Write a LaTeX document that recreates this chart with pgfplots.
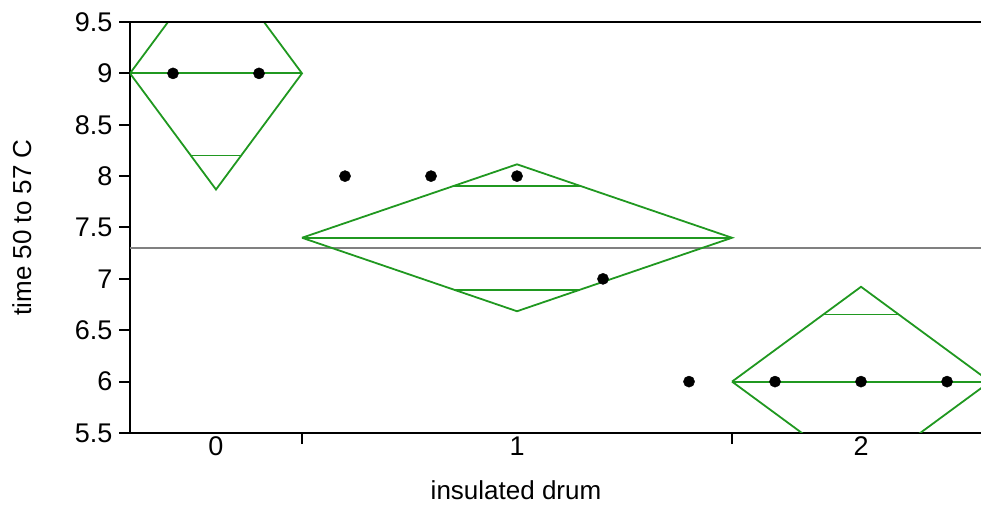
\documentclass[border=0pt]{standalone}
\usepackage{pgfplots}
\pgfplotsset{compat=1.18}
\usepackage{fontspec}
\setmainfont{Liberation Sans}
\definecolor{jgreen}{RGB}{32,152,32}
\definecolor{gmean}{RGB}{128,128,128}
\begin{document}
\begin{tikzpicture}
\useasboundingbox (-130pt,-72pt) rectangle (851pt,433pt);
\begin{axis}[
  at={(0,0)}, anchor=south west,
  scale only axis, width=851pt, height=411pt,
  xmin=0, xmax=9.895, ymin=5.5, ymax=9.5,
  axis x line*=bottom, axis y line*=left,
  axis line style={line width=2pt, black},
  clip mode=individual,
  ytick={5.5,6,6.5,7,7.5,8,8.5,9,9.5},
  yticklabels={5.5,6,6.5,7,7.5,8,8.5,9,9.5},
  xtick={2,7}, xticklabels={,},
  extra x ticks={1,4.5,8.5}, extra x tick labels={0,1,2},
  extra x tick style={major tick length=0pt},
  tick align=outside,
  major tick length=11pt,
  tick style={line width=2pt, black},
  /pgf/number format/assume math mode=true,
  tick label style={font=\fontsize{27}{31}\selectfont},
  yticklabel style={xshift=-3pt},
  label style={font=\fontsize{26}{30}\selectfont},
  xlabel={insulated drum},
  ylabel={time 50 to 57 C},
  xlabel style={at={(axis description cs:0.4536,-0.138)}, anchor=center},
  ylabel style={at={(axis description cs:-0.127,0.5)}, anchor=center},
]
% grand mean
\addplot[gmean, line width=2pt] coordinates {(0,7.3) (9.895,7.3)};
% group 0 diamond
\addplot[jgreen, line width=1.8pt] coordinates {(0,9) (1,10.1305) (2,9) (1,7.8695) (0,9)};
\addplot[jgreen, line width=1.8pt] coordinates {(0,9) (2,9)};
\addplot[jgreen, line width=1.8pt] coordinates {(0.7071,9.7994) (1.2929,9.7994)};
\addplot[jgreen, line width=1.8pt] coordinates {(0.7071,8.2006) (1.2929,8.2006)};
% group 1 diamond
\addplot[jgreen, line width=1.8pt] coordinates {(2,7.4) (4.5,8.115) (7,7.4) (4.5,6.685) (2,7.4)};
\addplot[jgreen, line width=1.8pt] coordinates {(2,7.4) (7,7.4)};
\addplot[jgreen, line width=1.8pt] coordinates {(3.768,7.9056) (5.232,7.9056)};
\addplot[jgreen, line width=1.8pt] coordinates {(3.768,6.8944) (5.232,6.8944)};
% group 2 diamond
\addplot[jgreen, line width=1.8pt] coordinates {(7,6) (8.5,6.923) (10,6) (8.5,5.077) (7,6)};
\addplot[jgreen, line width=1.8pt] coordinates {(7,6) (10,6)};
\addplot[jgreen, line width=1.8pt] coordinates {(8.0607,6.6527) (8.9393,6.6527)};
\addplot[jgreen, line width=1.8pt] coordinates {(8.0607,5.3473) (8.9393,5.3473)};
% observations
\addplot[only marks, mark=*, mark size=5.6pt, mark options={fill=black, draw=none}] coordinates {
  (0.5,9) (1.5,9)
  (2.5,8) (3.5,8) (4.5,8) (5.5,7) (6.5,6)
  (7.5,6) (8.5,6) (9.5,6)
};
\draw[black, line width=2pt] (rel axis cs:0,1) -- (rel axis cs:1,1);
\end{axis}
\end{tikzpicture}
\end{document}
